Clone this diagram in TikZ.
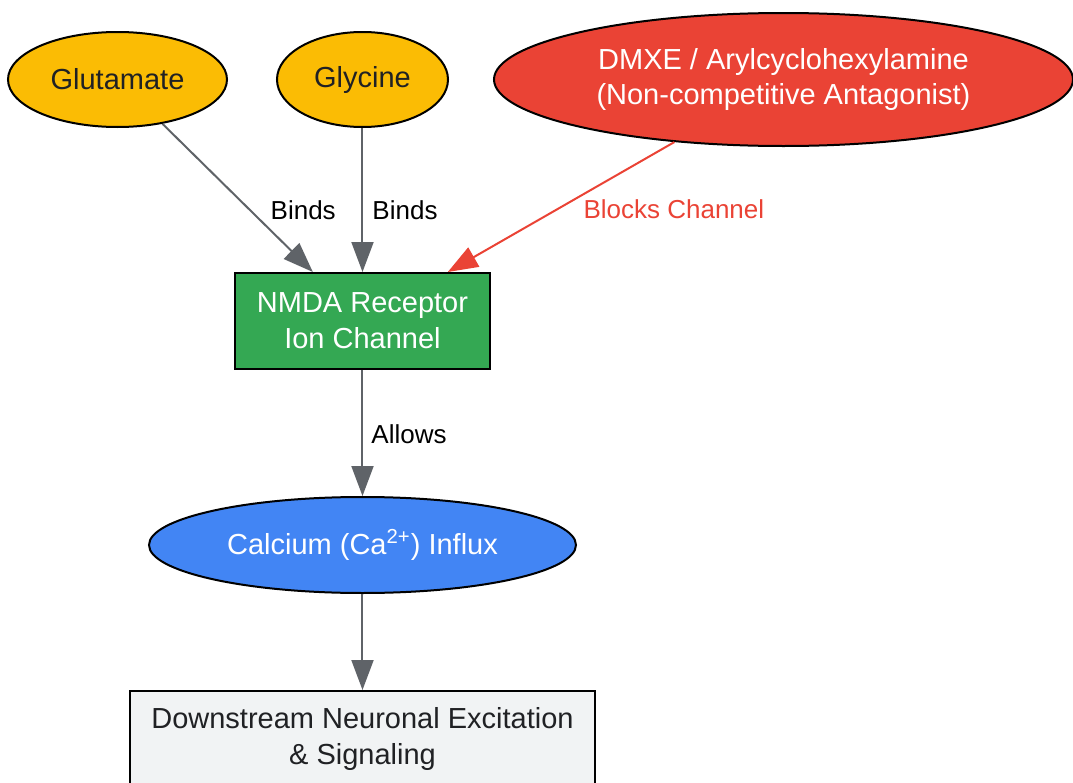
\documentclass[tikz,border=0pt]{standalone}
\usepackage{fontspec}
\setmainfont{Liberation Sans}
\usepackage{tikz}
\usetikzlibrary{shapes.geometric, arrows.meta, positioning}
\definecolor{ligand}{RGB}{251, 188, 4}
\definecolor{blocker}{RGB}{234, 67, 53}
\definecolor{receptor}{RGB}{52, 168, 83}
\definecolor{influx}{RGB}{66, 133, 244}
\definecolor{effect}{RGB}{241, 243, 244}
\definecolor{edgegray}{RGB}{95, 99, 104}
\definecolor{darktext}{RGB}{32, 33, 36}

\begin{document}
\begin{tikzpicture}[
    node distance=24pt,
    molecule/.style={ellipse, draw=black, line width=1pt, inner sep=1pt,
                     align=center, font=\fontsize{14.5pt}{18pt}\selectfont},
    channel/.style={rectangle, draw=black, line width=1pt, minimum height=48pt,
                    align=center, font=\fontsize{14.5pt}{18pt}\selectfont},
    arrow/.style={-{Triangle[length=15pt, width=11pt]}, line width=1pt, edgegray},
    lbl/.style={anchor=west, inner sep=0pt, text=black, font=\fontsize{13pt}{15pt}\selectfont}
]
\useasboundingbox (-181.25pt,-231pt) rectangle (355.25pt,160.5pt);

% Receptor
\node[channel, fill=receptor, text=white, minimum width=127.5pt] (nmda) {NMDA Receptor\\Ion Channel};

% Ligands and blocker
\node[molecule, fill=ligand, text=darktext, minimum width=85.5pt, minimum height=47.5pt, above=72pt of nmda] (glycine) {Glycine};
\node[molecule, fill=ligand, text=darktext, minimum width=109.5pt, minimum height=47.5pt, left=24pt of glycine] (glutamate) {Glutamate};
\node[molecule, fill=blocker, text=white, minimum width=289.5pt, minimum height=66.5pt, right=22pt of glycine] (dmxe) {DMXE / Arylcyclohexylamine\\(Non-competitive Antagonist)};

% Downstream
\node[molecule, fill=influx, text=white, minimum width=213.5pt, minimum height=48pt, below=63pt of nmda] (calcium) {Calcium (Ca\textsuperscript{2+}) Influx};
\node[channel, fill=effect, text=darktext, minimum width=232.5pt, below=48pt of calcium] (downstream) {Downstream Neuronal Excitation\\\& Signaling};

% Arrows
\draw[arrow] (glutamate) -- node[lbl, pos=0.58, xshift=10pt] {Binds} (nmda);
\draw[arrow] (glycine) -- node[lbl, pos=0.57, xshift=4.5pt] {Binds} (nmda);
\draw[arrow, blocker] (dmxe) -- node[lbl, text=blocker, pos=0.52, xshift=13pt] {Blocks Channel} (nmda);
\draw[arrow] (nmda) -- node[lbl, pos=0.51, xshift=4pt] {Allows} (calcium);
\draw[arrow] (calcium) -- (downstream);

\end{tikzpicture}
\end{document}
